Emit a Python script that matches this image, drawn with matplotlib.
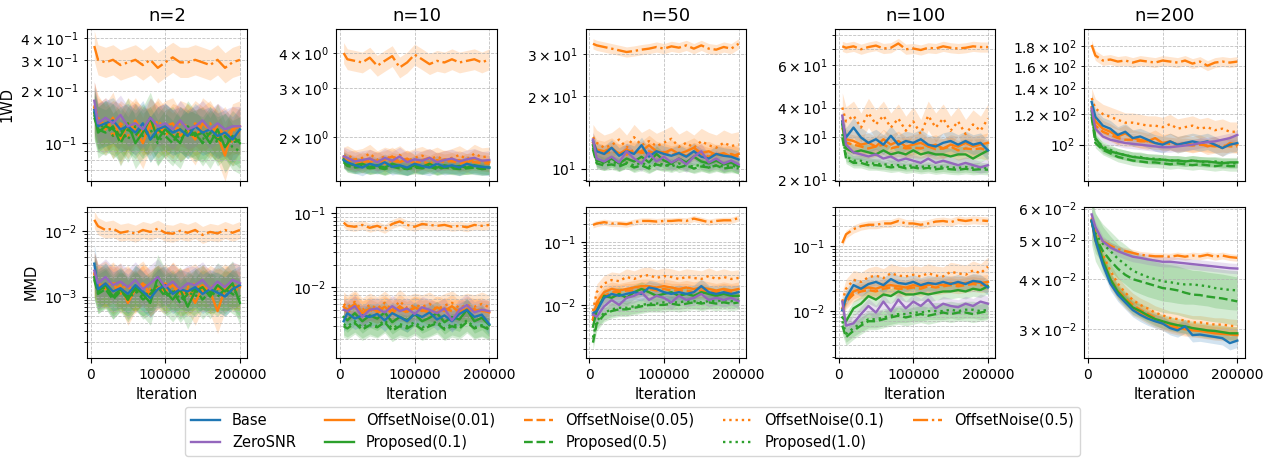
import matplotlib.pyplot as plt

# evaluation checkpoints
iterations = [5000, 10000, 20000, 30000, 40000, 50000, 60000, 70000, 80000, 90000, 100000,
              110000, 120000, 130000, 140000, 150000, 160000, 170000, 180000, 190000, 200000]

n_values = [2, 10, 50, 100, 200]
metrics = ["1WD", "MMD"]

methods = ["Base", "ZeroSNR", "OffsetNoise(0.01)", "OffsetNoise(0.05)", "OffsetNoise(0.1)",
           "OffsetNoise(0.5)", "Proposed(0.1)", "Proposed(0.5)", "Proposed(1.0)"]
colors = ["tab:blue", "tab:purple", "tab:orange", "tab:orange", "tab:orange",
          "tab:orange", "tab:green", "tab:green", "tab:green"]
styles = ["-", "-", "-", "--", ":", "-.", "-", "--", ":"]

# ---- 1WD, n=2 ----
wd2_base = [0.155, 0.125, 0.13, 0.135, 0.12, 0.125, 0.115, 0.13, 0.105, 0.12, 0.125, 0.115, 0.12, 0.11, 0.125, 0.115, 0.12, 0.11, 0.115, 0.105, 0.12]
wd2_zsnr = [0.175, 0.13, 0.14, 0.13, 0.145, 0.125, 0.13, 0.12, 0.14, 0.125, 0.13, 0.12, 0.135, 0.12, 0.125, 0.135, 0.12, 0.13, 0.12, 0.125, 0.125]
wd2_on001 = [0.16, 0.13, 0.12, 0.14, 0.105, 0.13, 0.12, 0.10, 0.13, 0.115, 0.125, 0.13, 0.11, 0.12, 0.105, 0.13, 0.12, 0.11, 0.085, 0.12, 0.125]
wd2_on005 = [0.15, 0.125, 0.135, 0.11, 0.13, 0.12, 0.135, 0.115, 0.12, 0.13, 0.11, 0.125, 0.12, 0.115, 0.13, 0.12, 0.11, 0.125, 0.11, 0.12, 0.115]
wd2_on01 = [0.165, 0.14, 0.12, 0.13, 0.125, 0.11, 0.13, 0.12, 0.115, 0.135, 0.12, 0.11, 0.13, 0.125, 0.115, 0.12, 0.13, 0.11, 0.12, 0.10, 0.12]
wd2_on05 = [0.36, 0.30, 0.29, 0.30, 0.28, 0.29, 0.30, 0.28, 0.30, 0.27, 0.29, 0.31, 0.29, 0.29, 0.30, 0.29, 0.28, 0.30, 0.27, 0.29, 0.30]
wd2_p01 = [0.15, 0.115, 0.125, 0.12, 0.11, 0.13, 0.10, 0.115, 0.14, 0.105, 0.12, 0.11, 0.10, 0.125, 0.11, 0.115, 0.10, 0.12, 0.095, 0.11, 0.10]
wd2_p05 = [0.14, 0.12, 0.115, 0.125, 0.10, 0.12, 0.11, 0.125, 0.105, 0.12, 0.11, 0.10, 0.12, 0.11, 0.115, 0.10, 0.115, 0.105, 0.11, 0.10, 0.105]
wd2_p10 = [0.145, 0.12, 0.13, 0.11, 0.12, 0.105, 0.125, 0.11, 0.12, 0.10, 0.115, 0.12, 0.105, 0.115, 0.11, 0.105, 0.12, 0.10, 0.11, 0.095, 0.09]
wd2_spread = [1.35, 1.3, 1.4, 1.35, 1.35, 1.22, 1.4, 1.35, 1.35]

# ---- 1WD, n=10 ----
wd10_base = [1.65, 1.62, 1.58, 1.55, 1.60, 1.57, 1.62, 1.56, 1.58, 1.55, 1.60, 1.57, 1.55, 1.60, 1.56, 1.58, 1.55, 1.60, 1.57, 1.56, 1.55]
wd10_zsnr = [1.70, 1.68, 1.63, 1.65, 1.67, 1.62, 1.68, 1.64, 1.70, 1.62, 1.66, 1.64, 1.68, 1.62, 1.65, 1.67, 1.63, 1.66, 1.68, 1.64, 1.65]
wd10_on001 = [1.68, 1.64, 1.66, 1.60, 1.67, 1.63, 1.65, 1.70, 1.62, 1.66, 1.60, 1.65, 1.68, 1.62, 1.66, 1.63, 1.65, 1.61, 1.67, 1.64, 1.62]
wd10_on005 = [1.66, 1.63, 1.60, 1.65, 1.62, 1.66, 1.60, 1.64, 1.62, 1.67, 1.61, 1.63, 1.60, 1.65, 1.62, 1.64, 1.60, 1.63, 1.62, 1.61, 1.60]
wd10_on01 = [1.70, 1.72, 1.66, 1.68, 1.74, 1.65, 1.70, 1.67, 1.72, 1.64, 1.68, 1.71, 1.66, 1.70, 1.65, 1.68, 1.72, 1.66, 1.74, 1.69, 1.70]
wd10_on05 = [4.0, 3.8, 3.75, 3.7, 3.85, 3.6, 3.75, 3.9, 3.55, 3.7, 3.95, 3.8, 3.65, 3.75, 3.7, 3.8, 3.7, 3.75, 3.8, 3.7, 3.8]
wd10_p01 = [1.66, 1.60, 1.58, 1.60, 1.56, 1.58, 1.55, 1.60, 1.57, 1.54, 1.58, 1.56, 1.60, 1.55, 1.58, 1.56, 1.57, 1.55, 1.58, 1.56, 1.55]
wd10_p05 = [1.62, 1.57, 1.55, 1.56, 1.54, 1.55, 1.53, 1.56, 1.54, 1.53, 1.55, 1.54, 1.56, 1.53, 1.55, 1.54, 1.53, 1.54, 1.55, 1.53, 1.54]
wd10_p10 = [1.64, 1.58, 1.56, 1.58, 1.55, 1.57, 1.54, 1.57, 1.55, 1.54, 1.56, 1.55, 1.57, 1.54, 1.56, 1.55, 1.54, 1.56, 1.55, 1.54, 1.55]
wd10_spread = [1.07, 1.08, 1.08, 1.07, 1.08, 1.09, 1.06, 1.05, 1.06]

# ---- 1WD, n=50 ----
wd50_base = [13.0, 11.8, 11.5, 12.2, 11.3, 11.8, 11.5, 12.5, 11.2, 11.8, 11.5, 11.3, 11.6, 11.2, 11.8, 11.2, 11.0, 11.5, 11.3, 11.2, 10.9]
wd50_zsnr = [13.2, 11.0, 10.7, 11.2, 10.6, 11.8, 11.0, 10.5, 11.6, 10.7, 11.2, 10.6, 11.0, 10.4, 11.2, 11.8, 10.6, 11.0, 10.5, 10.8, 10.4]
wd50_on001 = [12.8, 12.0, 11.8, 12.2, 11.5, 12.0, 11.6, 11.8, 12.5, 11.8, 11.6, 12.0, 11.5, 11.8, 12.2, 11.6, 11.8, 11.4, 11.6, 11.2, 11.5]
wd50_on005 = [12.5, 11.8, 11.5, 11.8, 11.6, 11.4, 12.0, 11.6, 11.8, 11.5, 11.7, 11.4, 11.6, 11.3, 11.8, 11.5, 11.2, 11.6, 11.3, 11.5, 11.2]
wd50_on01 = [13.5, 12.8, 12.2, 12.5, 13.2, 12.2, 13.5, 12.5, 13.0, 12.4, 12.8, 13.3, 12.3, 12.8, 12.2, 13.0, 12.5, 12.2, 12.8, 12.4, 12.6]
wd50_on05 = [33.0, 32.5, 32.0, 31.5, 31.0, 30.5, 30.8, 31.2, 31.5, 32.0, 31.5, 32.2, 31.8, 32.5, 31.5, 32.5, 31.5, 31.2, 32.0, 31.5, 33.0]
wd50_p01 = [12.5, 10.8, 10.6, 11.0, 10.5, 11.0, 10.7, 11.2, 10.6, 11.5, 10.8, 10.5, 11.0, 10.6, 11.2, 10.7, 10.5, 10.8, 10.4, 10.6, 10.2]
wd50_p05 = [12.0, 10.5, 10.3, 10.4, 10.2, 10.5, 10.1, 10.3, 10.0, 10.4, 10.2, 10.5, 10.1, 10.3, 10.0, 10.2, 10.1, 10.3, 10.0, 10.1, 10.0]
wd50_p10 = [12.2, 10.8, 10.5, 10.7, 10.4, 10.6, 10.3, 10.6, 10.2, 10.5, 10.4, 10.2, 10.5, 10.3, 10.2, 10.4, 10.1, 10.3, 10.2, 10.3, 10.1]
wd50_spread = [1.08, 1.08, 1.1, 1.09, 1.13, 1.05, 1.08, 1.05, 1.06]

# ---- 1WD, n=100 ----
wd100_base = [35, 30, 33, 30, 28.5, 29.5, 28, 30.5, 28, 29, 28.5, 29.5, 28, 27.5, 28.5, 29, 28, 29, 28, 28.5, 26.5]
wd100_zsnr = [37, 28, 26, 25.5, 25, 25.5, 24.5, 25, 24, 24.5, 24, 23.5, 24.5, 23.5, 24, 23.5, 23, 23.5, 23, 22.5, 23]
wd100_on001 = [35, 29.5, 29, 28, 28.5, 27.5, 29.5, 28, 29, 27.5, 28, 28.5, 27.5, 28, 27, 28, 27.5, 28.5, 27.5, 28, 28.5]
wd100_on005 = [33, 28.5, 28, 27.5, 27, 27.5, 28, 27, 27.5, 27, 27.2, 27, 27.5, 26.8, 27, 27.5, 26.5, 27, 26.8, 27, 26.5]
wd100_on01 = [40, 35, 37, 33, 38, 34, 37, 33, 36, 32, 35, 31, 37, 33, 36, 32, 35, 31, 34, 32, 36]
wd100_on05 = [72, 71, 72, 70, 71.5, 72.5, 70.5, 71, 74, 70, 70.5, 69.5, 71, 70.5, 72, 71, 70.5, 71, 72, 71.5, 71.5]
wd100_p01 = [34, 27, 26, 26.5, 26, 25.5, 26.5, 25.5, 26, 25.5, 26.5, 25.5, 26, 25.5, 25.5, 25, 25.5, 25.5, 24.5, 25.5, 26.5]
wd100_p05 = [30, 24.5, 23.5, 23.5, 23, 23, 22.8, 22.5, 22.7, 22.3, 22.5, 22.2, 22.4, 22.1, 22.3, 22.1, 22.0, 22.2, 22.0, 22.1, 22.0]
wd100_p10 = [31, 25, 24, 24, 23.5, 23.3, 23.2, 23, 23, 22.8, 22.9, 22.6, 22.8, 22.5, 22.7, 22.5, 22.4, 22.6, 22.4, 22.5, 22.4]
wd100_spread = [1.1, 1.06, 1.1, 1.1, 1.15, 1.05, 1.08, 1.05, 1.05]

# ---- 1WD, n=200 ----
wd200_base = [129, 118, 112, 110, 106, 108, 104, 105, 103, 101, 100, 102, 100, 101, 102, 101, 102, 100, 98, 100, 101]
wd200_zsnr = [124, 110, 105, 103, 102, 101, 100.5, 100, 99.5, 99, 98.5, 98.5, 99, 99.5, 100, 101, 101.5, 102, 103, 104, 106]
wd200_on001 = [125, 115, 110, 108, 105, 107, 104, 103, 102, 104, 101, 102, 100, 101, 100, 101, 99, 100, 98, 101, 100]
wd200_on005 = [124, 112, 108, 106, 104, 103, 103, 102, 102, 101, 101, 100.5, 100, 100, 99.5, 100, 99.5, 99, 99.5, 99, 99]
wd200_on01 = [132, 124, 120, 118, 116, 114, 114, 113, 112, 112, 111, 113, 110, 111, 112, 110, 111, 109, 110, 108, 108]
wd200_on05 = [181, 170, 165, 166, 164, 165, 163, 165, 164, 163, 165, 164, 163, 165, 162, 164, 160, 163, 164, 163, 164]
wd200_p01 = [122, 104, 98, 96, 95, 94, 93, 92.5, 92, 91.5, 91.5, 91, 91, 90.5, 91, 90.5, 90.5, 90, 89.5, 90, 90]
wd200_p05 = [118, 101, 97, 95, 93, 92, 91, 90.5, 90, 90, 89.5, 89, 89.5, 89, 88.5, 89, 88.5, 88, 88.5, 88, 88]
wd200_p10 = [120, 103, 99, 97, 95, 94, 93, 93, 92, 92, 91.5, 91, 91, 90.5, 91, 90.5, 90, 90.5, 90, 89.5, 89.5]
wd200_spread = [1.05, 1.03, 1.05, 1.04, 1.06, 1.03, 1.03, 1.03, 1.03]

# ---- MMD, n=2 ----
mmd2_base = [3.2e-3, 1.3e-3, 1.6e-3, 1.2e-3, 1.35e-3, 1.1e-3, 1.5e-3, 1.2e-3, 0.95e-3, 1.3e-3, 1.5e-3, 1.1e-3, 1.3e-3, 1.2e-3, 1.4e-3, 1.1e-3, 1.3e-3, 1.15e-3, 1.0e-3, 1.3e-3, 1.5e-3]
mmd2_zsnr = [2.5e-3, 1.6e-3, 2.0e-3, 1.5e-3, 1.7e-3, 1.4e-3, 1.8e-3, 1.3e-3, 1.6e-3, 2.0e-3, 1.4e-3, 1.7e-3, 1.3e-3, 1.6e-3, 1.5e-3, 1.8e-3, 1.3e-3, 1.7e-3, 1.4e-3, 1.8e-3, 1.6e-3]
mmd2_on001 = [2.2e-3, 1.4e-3, 1.6e-3, 1.2e-3, 1.5e-3, 0.8e-3, 1.3e-3, 1.6e-3, 1.1e-3, 1.4e-3, 1.2e-3, 1.5e-3, 1.1e-3, 1.3e-3, 0.8e-3, 1.4e-3, 1.2e-3, 0.6e-3, 1.3e-3, 1.5e-3, 1.4e-3]
mmd2_on005 = [2.0e-3, 1.5e-3, 1.3e-3, 1.6e-3, 1.1e-3, 1.4e-3, 1.2e-3, 1.5e-3, 1.0e-3, 1.3e-3, 1.6e-3, 1.2e-3, 1.4e-3, 1.0e-3, 1.3e-3, 1.5e-3, 1.1e-3, 1.4e-3, 1.2e-3, 1.3e-3, 1.2e-3]
mmd2_on01 = [2.4e-3, 1.6e-3, 1.4e-3, 1.7e-3, 1.3e-3, 1.5e-3, 1.1e-3, 1.6e-3, 1.3e-3, 1.5e-3, 1.2e-3, 1.7e-3, 1.3e-3, 1.4e-3, 1.6e-3, 1.2e-3, 1.5e-3, 1.3e-3, 1.6e-3, 1.2e-3, 1.4e-3]
mmd2_on05 = [15e-3, 12e-3, 10.5e-3, 11e-3, 9.5e-3, 10e-3, 9.2e-3, 10.5e-3, 9.8e-3, 11e-3, 9.5e-3, 9.2e-3, 10.2e-3, 9.5e-3, 10.5e-3, 8.8e-3, 9.8e-3, 9.3e-3, 10.5e-3, 9.5e-3, 10.5e-3]
mmd2_p01 = [2.0e-3, 1.2e-3, 1.5e-3, 1.0e-3, 1.3e-3, 0.9e-3, 1.4e-3, 1.1e-3, 0.8e-3, 2.0e-3, 1.2e-3, 0.9e-3, 1.3e-3, 0.7e-3, 1.2e-3, 1.4e-3, 1.0e-3, 1.5e-3, 1.2e-3, 1.6e-3, 0.8e-3]
mmd2_p05 = [1.8e-3, 1.1e-3, 1.3e-3, 0.9e-3, 1.2e-3, 1.0e-3, 1.3e-3, 0.9e-3, 1.1e-3, 1.4e-3, 1.0e-3, 1.2e-3, 0.8e-3, 1.1e-3, 1.3e-3, 0.9e-3, 1.2e-3, 1.0e-3, 1.3e-3, 1.1e-3, 0.9e-3]
mmd2_p10 = [1.9e-3, 1.2e-3, 1.4e-3, 1.0e-3, 1.3e-3, 0.9e-3, 1.2e-3, 1.0e-3, 1.2e-3, 1.5e-3, 1.1e-3, 1.3e-3, 0.9e-3, 1.2e-3, 1.0e-3, 1.3e-3, 1.1e-3, 1.2e-3, 1.0e-3, 1.3e-3, 1.0e-3]
mmd2_spread = [2.0, 1.9, 2.2, 2.0, 2.0, 1.35, 2.2, 2.0, 2.0]

# ---- MMD, n=10 ----
mmd10_base = [3.5e-3, 4.5e-3, 3.8e-3, 4.2e-3, 4.0e-3, 4.4e-3, 3.6e-3, 4.5e-3, 4.0e-3, 3.5e-3, 4.4e-3, 4.0e-3, 4.6e-3, 3.7e-3, 4.2e-3, 3.5e-3, 4.4e-3, 5.0e-3, 4.0e-3, 4.3e-3, 3.2e-3]
mmd10_zsnr = [5.0e-3, 4.8e-3, 5.6e-3, 4.0e-3, 5.0e-3, 5.2e-3, 4.6e-3, 5.6e-3, 4.8e-3, 5.2e-3, 4.4e-3, 5.4e-3, 5.0e-3, 4.5e-3, 5.2e-3, 3.6e-3, 5.0e-3, 5.8e-3, 4.6e-3, 5.0e-3, 4.8e-3]
mmd10_on001 = [5.5e-3, 5.0e-3, 6.0e-3, 4.5e-3, 5.2e-3, 4.8e-3, 5.5e-3, 4.4e-3, 5.6e-3, 4.7e-3, 5.3e-3, 5.0e-3, 4.5e-3, 5.4e-3, 4.8e-3, 5.6e-3, 4.6e-3, 5.2e-3, 4.9e-3, 5.0e-3, 4.6e-3]
mmd10_on005 = [5.2e-3, 4.6e-3, 5.5e-3, 4.8e-3, 5.0e-3, 4.5e-3, 5.3e-3, 4.9e-3, 5.1e-3, 4.6e-3, 5.4e-3, 4.8e-3, 5.0e-3, 4.6e-3, 5.2e-3, 4.8e-3, 5.0e-3, 4.7e-3, 5.1e-3, 4.8e-3, 4.7e-3]
mmd10_on01 = [6.0e-3, 5.4e-3, 6.4e-3, 5.0e-3, 5.8e-3, 5.2e-3, 6.2e-3, 5.0e-3, 6.5e-3, 5.3e-3, 5.8e-3, 5.5e-3, 6.0e-3, 5.1e-3, 5.7e-3, 6.2e-3, 5.3e-3, 5.8e-3, 5.5e-3, 6.0e-3, 5.4e-3]
mmd10_on05 = [0.075, 0.068, 0.066, 0.070, 0.064, 0.068, 0.062, 0.072, 0.078, 0.070, 0.066, 0.072, 0.070, 0.068, 0.070, 0.066, 0.068, 0.065, 0.070, 0.068, 0.070]
mmd10_p01 = [4.0e-3, 3.6e-3, 4.5e-3, 3.5e-3, 4.2e-3, 3.8e-3, 4.6e-3, 3.4e-3, 4.0e-3, 3.6e-3, 4.4e-3, 3.5e-3, 3.9e-3, 4.5e-3, 3.4e-3, 4.0e-3, 3.7e-3, 5.0e-3, 3.5e-3, 3.9e-3, 3.1e-3]
mmd10_p05 = [3.0e-3, 2.8e-3, 3.3e-3, 2.7e-3, 3.1e-3, 2.9e-3, 3.4e-3, 2.6e-3, 3.0e-3, 2.8e-3, 3.2e-3, 2.7e-3, 3.0e-3, 3.3e-3, 2.7e-3, 3.0e-3, 2.8e-3, 3.4e-3, 2.8e-3, 3.0e-3, 2.7e-3]
mmd10_p10 = [3.2e-3, 3.0e-3, 3.5e-3, 2.9e-3, 3.3e-3, 3.0e-3, 3.6e-3, 2.8e-3, 3.2e-3, 3.0e-3, 3.4e-3, 2.9e-3, 3.1e-3, 3.5e-3, 2.8e-3, 3.2e-3, 3.0e-3, 3.6e-3, 2.9e-3, 3.1e-3, 2.8e-3]
mmd10_spread = [1.4, 1.4, 1.45, 1.4, 1.45, 1.15, 1.45, 1.4, 1.4]

# ---- MMD, n=50 ----
mmd50_base = [7.35e-3, 8e-3, 1.3e-2, 1.5e-2, 1.4e-2, 1.5e-2, 1.6e-2, 1.5e-2, 1.9e-2, 1.8e-2, 1.6e-2, 1.5e-2, 1.6e-2, 1.5e-2, 1.6e-2, 2.0e-2, 1.6e-2, 1.5e-2, 1.6e-2, 1.5e-2, 1.6e-2]
mmd50_zsnr = [7.0e-3, 6.5e-3, 9.5e-3, 1.2e-2, 1.0e-2, 1.3e-2, 1.4e-2, 1.6e-2, 1.2e-2, 1.4e-2, 1.3e-2, 1.1e-2, 1.4e-2, 1.2e-2, 1.3e-2, 1.5e-2, 1.2e-2, 1.3e-2, 1.2e-2, 1.3e-2, 1.15e-2]
mmd50_on001 = [6e-3, 1.1e-2, 1.6e-2, 1.8e-2, 1.7e-2, 1.8e-2, 1.9e-2, 2.0e-2, 2.0e-2, 1.9e-2, 2.0e-2, 1.9e-2, 1.8e-2, 1.9e-2, 1.8e-2, 1.9e-2, 1.8e-2, 1.7e-2, 1.8e-2, 1.7e-2, 1.8e-2]
mmd50_on005 = [5.5e-3, 1.0e-2, 1.4e-2, 1.6e-2, 1.6e-2, 1.7e-2, 1.7e-2, 1.8e-2, 1.8e-2, 1.7e-2, 1.8e-2, 1.7e-2, 1.7e-2, 1.7e-2, 1.6e-2, 1.7e-2, 1.6e-2, 1.6e-2, 1.7e-2, 1.6e-2, 1.6e-2]
mmd50_on01 = [8e-3, 1.6e-2, 2.2e-2, 2.5e-2, 2.4e-2, 2.8e-2, 2.6e-2, 2.9e-2, 3.0e-2, 2.7e-2, 2.9e-2, 2.8e-2, 2.6e-2, 2.8e-2, 2.7e-2, 2.6e-2, 2.9e-2, 2.6e-2, 2.8e-2, 2.6e-2, 2.7e-2]
mmd50_on05 = [0.19, 0.20, 0.21, 0.20, 0.20, 0.195, 0.21, 0.22, 0.22, 0.215, 0.22, 0.22, 0.225, 0.22, 0.24, 0.225, 0.21, 0.22, 0.225, 0.225, 0.245]
mmd50_p01 = [4.5e-3, 8e-3, 1.4e-2, 1.3e-2, 1.5e-2, 1.3e-2, 1.6e-2, 1.8e-2, 1.6e-2, 1.4e-2, 1.5e-2, 1.6e-2, 1.4e-2, 1.5e-2, 1.4e-2, 1.6e-2, 1.5e-2, 1.4e-2, 1.5e-2, 1.4e-2, 1.4e-2]
mmd50_p05 = [2.5e-3, 5e-3, 7e-3, 8e-3, 8.5e-3, 8.5e-3, 9e-3, 9.5e-3, 1.0e-2, 1.0e-2, 1.0e-2, 1.05e-2, 1.0e-2, 1.05e-2, 1.1e-2, 1.05e-2, 1.1e-2, 1.05e-2, 1.1e-2, 1.05e-2, 1.1e-2]
mmd50_p10 = [3e-3, 5.5e-3, 7.5e-3, 8.5e-3, 9e-3, 9e-3, 9.5e-3, 1.0e-2, 1.05e-2, 1.05e-2, 1.1e-2, 1.1e-2, 1.1e-2, 1.15e-2, 1.15e-2, 1.1e-2, 1.15e-2, 1.15e-2, 1.2e-2, 1.15e-2, 1.2e-2]
mmd50_spread = [1.3, 1.3, 1.3, 1.3, 1.35, 1.12, 1.3, 1.3, 1.3]

# ---- MMD, n=100 ----
mmd100_base = [1.03e-2, 1.6e-2, 2.5e-2, 2.2e-2, 2.6e-2, 2.8e-2, 2.5e-2, 3.1e-2, 2.7e-2, 2.6e-2, 2.8e-2, 2.5e-2, 2.7e-2, 2.6e-2, 2.8e-2, 2.6e-2, 2.8e-2, 2.6e-2, 2.9e-2, 2.8e-2, 2.3e-2]
mmd100_zsnr = [1.4e-2, 6e-3, 6.5e-3, 9e-3, 1.2e-2, 9.5e-3, 1.4e-2, 1.0e-2, 1.5e-2, 1.1e-2, 1.4e-2, 1.2e-2, 1.5e-2, 1.1e-2, 1.3e-2, 1.2e-2, 1.15e-2, 1.3e-2, 1.2e-2, 1.4e-2, 1.3e-2]
mmd100_on001 = [1.1e-2, 1.5e-2, 2.0e-2, 2.2e-2, 2.3e-2, 2.2e-2, 2.4e-2, 2.5e-2, 2.4e-2, 2.3e-2, 2.5e-2, 2.4e-2, 2.5e-2, 2.6e-2, 2.5e-2, 2.7e-2, 2.6e-2, 2.7e-2, 2.8e-2, 2.7e-2, 2.8e-2]
mmd100_on005 = [1.0e-2, 1.4e-2, 1.8e-2, 2.0e-2, 2.1e-2, 2.0e-2, 2.2e-2, 2.3e-2, 2.2e-2, 2.2e-2, 2.3e-2, 2.2e-2, 2.4e-2, 2.3e-2, 2.4e-2, 2.5e-2, 2.4e-2, 2.5e-2, 2.6e-2, 2.5e-2, 2.5e-2]
mmd100_on01 = [1.4e-2, 2.2e-2, 3.0e-2, 2.8e-2, 3.3e-2, 3.5e-2, 3.2e-2, 3.8e-2, 3.5e-2, 3.4e-2, 3.6e-2, 3.4e-2, 3.8e-2, 3.5e-2, 3.4e-2, 4.0e-2, 3.8e-2, 3.6e-2, 4.2e-2, 3.8e-2, 4.8e-2]
mmd100_on05 = [0.11, 0.15, 0.18, 0.20, 0.21, 0.21, 0.22, 0.22, 0.24, 0.22, 0.22, 0.21, 0.22, 0.235, 0.24, 0.23, 0.25, 0.24, 0.25, 0.245, 0.24]
mmd100_p01 = [8e-3, 7e-3, 1.1e-2, 1.3e-2, 1.7e-2, 1.5e-2, 1.8e-2, 1.7e-2, 2.0e-2, 1.8e-2, 1.8e-2, 1.9e-2, 1.8e-2, 1.9e-2, 2.0e-2, 2.0e-2, 2.1e-2, 2.0e-2, 2.2e-2, 2.1e-2, 2.4e-2]
mmd100_p05 = [6e-3, 4e-3, 5e-3, 6e-3, 7e-3, 7e-3, 7.5e-3, 8e-3, 8.5e-3, 8e-3, 8.5e-3, 9e-3, 8.5e-3, 9e-3, 9.5e-3, 9e-3, 9.5e-3, 9.5e-3, 9e-3, 9.5e-3, 1.0e-2]
mmd100_p10 = [7e-3, 4.5e-3, 5.5e-3, 6.5e-3, 7.5e-3, 7.5e-3, 8e-3, 8.5e-3, 9e-3, 9e-3, 9.5e-3, 9.5e-3, 1.0e-2, 1.0e-2, 1.0e-2, 1.05e-2, 1.0e-2, 1.05e-2, 1.05e-2, 1.0e-2, 1.05e-2]
mmd100_spread = [1.3, 1.3, 1.3, 1.3, 1.4, 1.15, 1.3, 1.35, 1.35]

# ---- MMD, n=200 ----
mmd200_base = [0.056, 0.050, 0.0435, 0.039, 0.0366, 0.035, 0.0335, 0.0326, 0.0319, 0.0314, 0.031, 0.0302, 0.0298, 0.0305, 0.029, 0.0291, 0.0289, 0.0287, 0.0285, 0.0277, 0.0281]
mmd200_zsnr = [0.058, 0.054, 0.0497, 0.048, 0.047, 0.0462, 0.0455, 0.0452, 0.0448, 0.0445, 0.0442, 0.0442, 0.044, 0.0438, 0.0436, 0.0434, 0.0432, 0.043, 0.0428, 0.0426, 0.0425]
mmd200_on001 = [0.056, 0.050, 0.044, 0.0395, 0.037, 0.0352, 0.0338, 0.033, 0.0322, 0.0315, 0.031, 0.0305, 0.0302, 0.030, 0.0298, 0.0297, 0.0295, 0.0293, 0.0292, 0.0291, 0.029]
mmd200_on005 = [0.056, 0.051, 0.0445, 0.040, 0.0375, 0.0358, 0.0345, 0.0335, 0.0328, 0.032, 0.0312, 0.0308, 0.0305, 0.0302, 0.030, 0.0298, 0.0296, 0.0295, 0.0294, 0.0293, 0.0292]
mmd200_on01 = [0.056, 0.051, 0.046, 0.042, 0.039, 0.037, 0.0355, 0.0345, 0.0338, 0.033, 0.0325, 0.032, 0.0318, 0.0315, 0.0312, 0.0312, 0.031, 0.0308, 0.0308, 0.0306, 0.0305]
mmd200_on05 = [0.057, 0.053, 0.0497, 0.0485, 0.0475, 0.047, 0.0465, 0.046, 0.0458, 0.0456, 0.0456, 0.0455, 0.0458, 0.0455, 0.0458, 0.0456, 0.046, 0.0455, 0.0458, 0.0454, 0.0452]
mmd200_p01 = [0.056, 0.051, 0.0445, 0.040, 0.0372, 0.0355, 0.034, 0.0333, 0.0325, 0.0318, 0.0314, 0.031, 0.0307, 0.0305, 0.0302, 0.030, 0.0298, 0.0297, 0.0295, 0.0293, 0.0293]
mmd200_p05 = [0.056, 0.051, 0.047, 0.0445, 0.0425, 0.041, 0.040, 0.0395, 0.039, 0.0385, 0.038, 0.0378, 0.0375, 0.037, 0.0366, 0.0365, 0.0362, 0.036, 0.0358, 0.0355, 0.0352]
mmd200_p10 = [0.056, 0.052, 0.049, 0.047, 0.045, 0.0435, 0.042, 0.0412, 0.0405, 0.040, 0.0395, 0.0393, 0.039, 0.0388, 0.0388, 0.0386, 0.0384, 0.038, 0.0378, 0.0376, 0.0375]
mmd200_spread = [1.04, 1.03, 1.04, 1.04, 1.04, 1.02, 1.04, 1.15, 1.12]

# y-limits per panel
wd_ylims = [(0.061, 0.45), (1.39, 4.88), (8.9, 38.0), (19.8, 85.0), (80.7, 199.0)]
mmd_ylims = [(1.14e-4, 0.024), (1.11e-3, 0.124), (1.41e-3, 0.374), (1.9e-3, 0.4), (0.0254, 0.0607)]

panels = {
    ("1WD", 2): ([wd2_base, wd2_zsnr, wd2_on001, wd2_on005, wd2_on01, wd2_on05, wd2_p01, wd2_p05, wd2_p10], wd2_spread),
    ("1WD", 10): ([wd10_base, wd10_zsnr, wd10_on001, wd10_on005, wd10_on01, wd10_on05, wd10_p01, wd10_p05, wd10_p10], wd10_spread),
    ("1WD", 50): ([wd50_base, wd50_zsnr, wd50_on001, wd50_on005, wd50_on01, wd50_on05, wd50_p01, wd50_p05, wd50_p10], wd50_spread),
    ("1WD", 100): ([wd100_base, wd100_zsnr, wd100_on001, wd100_on005, wd100_on01, wd100_on05, wd100_p01, wd100_p05, wd100_p10], wd100_spread),
    ("1WD", 200): ([wd200_base, wd200_zsnr, wd200_on001, wd200_on005, wd200_on01, wd200_on05, wd200_p01, wd200_p05, wd200_p10], wd200_spread),
    ("MMD", 2): ([mmd2_base, mmd2_zsnr, mmd2_on001, mmd2_on005, mmd2_on01, mmd2_on05, mmd2_p01, mmd2_p05, mmd2_p10], mmd2_spread),
    ("MMD", 10): ([mmd10_base, mmd10_zsnr, mmd10_on001, mmd10_on005, mmd10_on01, mmd10_on05, mmd10_p01, mmd10_p05, mmd10_p10], mmd10_spread),
    ("MMD", 50): ([mmd50_base, mmd50_zsnr, mmd50_on001, mmd50_on005, mmd50_on01, mmd50_on05, mmd50_p01, mmd50_p05, mmd50_p10], mmd50_spread),
    ("MMD", 100): ([mmd100_base, mmd100_zsnr, mmd100_on001, mmd100_on005, mmd100_on01, mmd100_on05, mmd100_p01, mmd100_p05, mmd100_p10], mmd100_spread),
    ("MMD", 200): ([mmd200_base, mmd200_zsnr, mmd200_on001, mmd200_on005, mmd200_on01, mmd200_on05, mmd200_p01, mmd200_p05, mmd200_p10], mmd200_spread),
}

# offset-noise first, proposed next, base and zerosnr on top
draw_order = [5, 4, 3, 2, 8, 7, 6, 0, 1]

fig, axs = plt.subplots(2, 5, figsize=(12.7, 4.61), dpi=100, sharex=True)
fig.subplots_adjust(left=0.0685, right=0.98, top=0.937, bottom=0.223, wspace=0.556, hspace=0.17)

lines = {}
for r, metric in enumerate(metrics):
    ylims = wd_ylims if metric == "1WD" else mmd_ylims
    for c, n in enumerate(n_values):
        ax = axs[r, c]
        series, spread = panels[(metric, n)]
        for k in draw_order:
            mean = series[k]
            lo = [v / spread[k] for v in mean]
            hi = [v * spread[k] for v in mean]
            ax.fill_between(iterations, lo, hi, color=colors[k], alpha=0.2, linewidth=0)
            ln, = ax.plot(iterations, mean, color=colors[k], linestyle=styles[k], linewidth=1.7)
            lines[k] = ln
        ax.set_yscale("log")
        ax.set_ylim(*ylims[c])
        ax.grid(True, which="both", linestyle="--", linewidth=0.6, color="#b0b0b0", alpha=0.8)
        ax.set_xticks([0, 100000, 200000])
        if r == 0:
            ax.set_title(f"n={n}", fontsize=13)
        else:
            ax.set_xlabel("Iteration", fontsize=10.5)
        if c == 0:
            ax.set_ylabel(metric, fontsize=10.5)

legend_order = [0, 1, 2, 6, 3, 7, 4, 8, 5]
fig.legend([lines[k] for k in legend_order], [methods[k] for k in legend_order],
           loc="lower center", bbox_to_anchor=(0.498, -0.005), ncol=5, fontsize=10.5)

fig.savefig("out.png", dpi=100)
